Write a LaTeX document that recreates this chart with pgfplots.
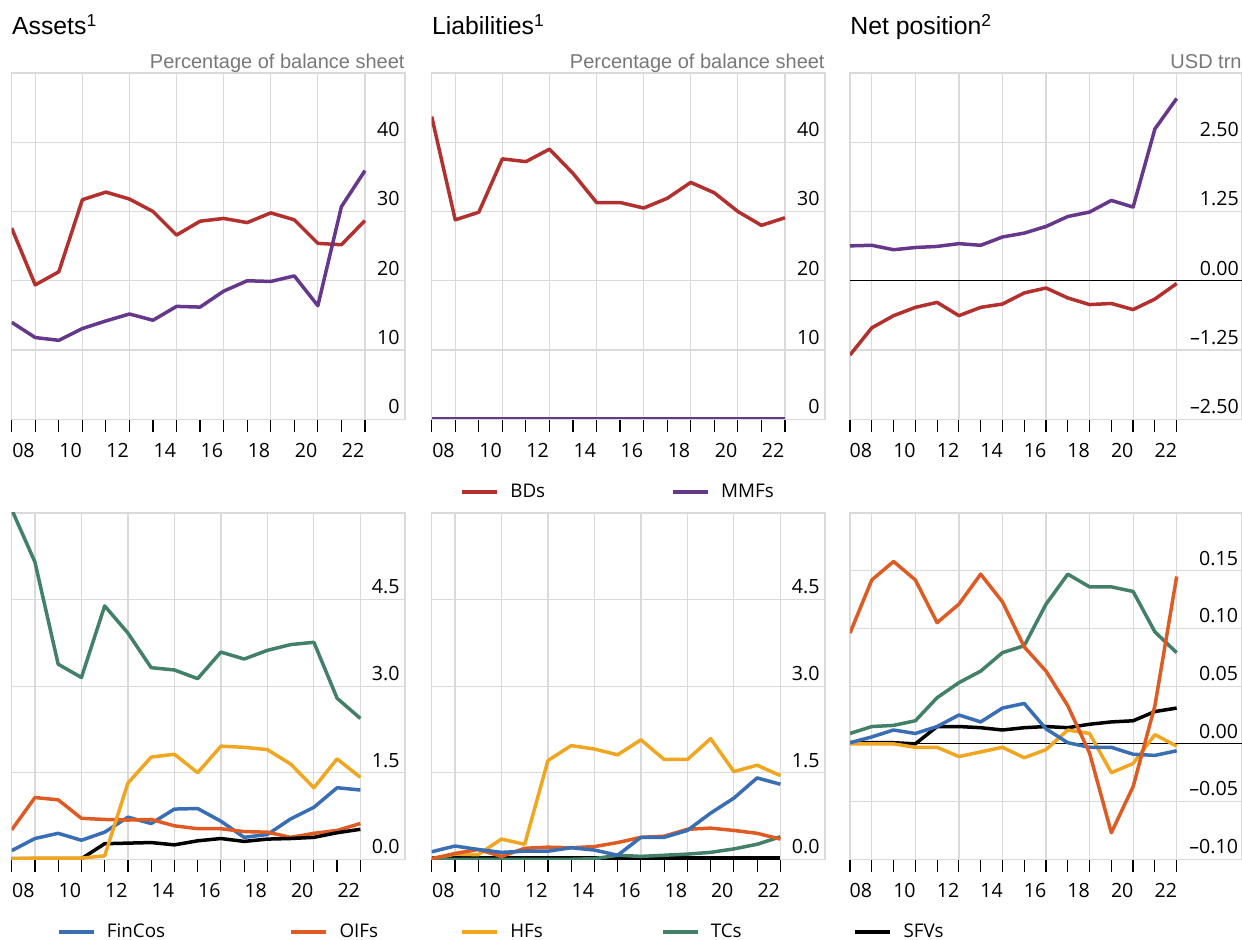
\documentclass[border=0pt]{standalone}
\usepackage{fontspec}
\setmainfont{Liberation Sans}
\newfontfamily\tickfont{Open Sans}
\usepackage{pgfplots}
\usepackage{pgfplotstable}
\pgfplotsset{compat=1.18}

\definecolor{bdred}{RGB}{178,48,46}
\definecolor{mmfpurple}{RGB}{102,56,140}
\definecolor{finblue}{RGB}{58,110,180}
\definecolor{oiforange}{RGB}{222,92,36}
\definecolor{hfyellow}{RGB}{240,166,32}
\definecolor{tcgreen}{RGB}{66,128,104}
\definecolor{gridgray}{RGB}{218,218,218}
\definecolor{unitgray}{RGB}{120,120,120}

% top row: share of balance sheet (%) and net position (USD trn)
\pgfplotstableread{
year  bds   mmfs
2008  27.6  14.0
2009  19.4  11.8
2010  21.3  11.4
2011  31.7  13.1
2012  32.8  14.2
2013  31.8  15.2
2014  30.0  14.3
2015  26.6  16.3
2016  28.6  16.2
2017  29.0  18.5
2018  28.4  20.0
2019  29.8  19.9
2020  28.8  20.7
2021  25.4  16.4
2022  25.2  30.7
2023  28.7  35.9
}\assetstop
\pgfplotstableread{
year  bds   mmfs
2008  43.7  0.15
2009  28.8  0.15
2010  29.9  0.15
2011  37.6  0.15
2012  37.2  0.15
2013  39.0  0.15
2014  35.5  0.15
2015  31.3  0.15
2016  31.3  0.15
2017  30.5  0.15
2018  31.9  0.15
2019  34.2  0.15
2020  32.7  0.15
2021  30.0  0.15
2022  28.0  0.15
2023  29.1  0.15
}\liabtop
\pgfplotstableread{
year  bds    mmfs
2008  -1.34  0.63
2009  -0.85  0.64
2010  -0.63  0.56
2011  -0.48  0.60
2012  -0.39  0.62
2013  -0.63  0.67
2014  -0.48  0.64
2015  -0.42  0.79
2016  -0.22  0.86
2017  -0.13  0.98
2018  -0.31  1.16
2019  -0.43  1.24
2020  -0.41  1.45
2021  -0.52  1.33
2022  -0.33  2.74
2023  -0.05  3.29
}\nettop

% bottom row: other non-bank financial institutions
\pgfplotstableread{
year  fincos  oifs  hfs   tcs   sfvs
2008  0.15    0.51  0.01  6.06  0.01
2009  0.36    1.07  0.02  5.15  0.01
2010  0.45    1.03  0.02  3.38  0.01
2011  0.33    0.71  0.02  3.15  0.01
2012  0.47    0.69  0.06  4.39  0.27
2013  0.73    0.68  1.32  3.92  0.28
2014  0.62    0.69  1.77  3.32  0.29
2015  0.87    0.58  1.82  3.28  0.25
2016  0.88    0.53  1.50  3.13  0.32
2017  0.66    0.53  1.96  3.59  0.36
2018  0.38    0.48  1.94  3.47  0.31
2019  0.43    0.47  1.90  3.62  0.35
2020  0.70    0.38  1.65  3.72  0.36
2021  0.90    0.45  1.24  3.76  0.38
2022  1.24    0.50  1.74  2.79  0.46
2023  1.20    0.62  1.42  2.44  0.52
}\assetsbot
\pgfplotstableread{
year  fincos  oifs  hfs   tcs   sfvs
2008  0.13    0.01  0.01  0.00  0.02
2009  0.23    0.10  0.09  0.00  0.02
2010  0.17    0.17  0.08  0.00  0.02
2011  0.12    0.05  0.35  0.00  0.02
2012  0.14    0.19  0.26  0.00  0.02
2013  0.14    0.21  1.71  0.00  0.02
2014  0.20    0.20  1.97  0.00  0.02
2015  0.16    0.22  1.91  0.01  0.02
2016  0.07    0.29  1.81  0.07  0.02
2017  0.38    0.38  2.07  0.05  0.02
2018  0.38    0.40  1.73  0.07  0.02
2019  0.50    0.52  1.73  0.09  0.02
2020  0.80    0.54  2.09  0.12  0.02
2021  1.06    0.50  1.52  0.18  0.02
2022  1.41    0.45  1.63  0.26  0.02
2023  1.30    0.35  1.45  0.39  0.02
}\liabbot
\pgfplotstableread{
year  fincos  oifs    hfs     tcs    sfvs
2008  0.001   0.096   0.000   0.009  0.001
2009  0.006   0.142   0.000   0.015  0.001
2010  0.012   0.158   0.000   0.016  0.001
2011  0.009   0.142  -0.003   0.020  0.000
2012  0.015   0.105  -0.003   0.040  0.015
2013  0.025   0.121  -0.011   0.053  0.015
2014  0.019   0.147  -0.007   0.063  0.014
2015  0.031   0.123  -0.003   0.079  0.012
2016  0.035   0.084  -0.012   0.085  0.014
2017  0.013   0.063  -0.005   0.121  0.015
2018  0.001   0.033   0.012   0.147  0.014
2019  -0.003  -0.008  0.009   0.136  0.017
2020  -0.003  -0.077  -0.025  0.136  0.019
2021  -0.009  -0.037  -0.017  0.132  0.020
2022  -0.010  0.033   0.008   0.097  0.028
2023  -0.006  0.145   -0.002  0.079  0.031
}\netbot

\pgfplotsset{
  legend image code/.code={\draw[#1, line width=1.6pt] (0pt,0pt) -- (17.5pt,0pt);},
  panel/.style={
    scale only axis, width=196.65pt, height=173.15pt,
    anchor=south west, xmin=2008, clip mode=individual,
    axis line style={draw=gridgray, line width=0.6pt},
    % a tick at every year, labels moved to mid-year, grid at odd years
    xtick={2008,2009,...,2023},
    xticklabels={08,,10,,12,,14,,16,,18,,20,,22,},
    minor xtick={2009,2011,2013,2015,2017,2019,2021,2023},
    xminorgrids=true, minor tick length=0pt,
    minor grid style={draw=gridgray, line width=0.6pt},
    ymajorgrids=true,
    major grid style={draw=gridgray, line width=0.6pt},
    major tick length=6.5pt, tick align=outside,
    xtick style={draw=black, line width=0.6pt},
    ytick style={draw=none},
    xtick pos=left, ytick pos=right, yticklabel pos=right,
    xticklabel style={font=\tickfont\fontsize{9.8}{10}\selectfont,
      anchor=north, inner sep=0pt, yshift=-5.2pt, xshift=5.89pt},
    yticklabel style={font=\tickfont\fontsize{9.8}{10}\selectfont,
      anchor=base east, inner sep=0pt, xshift=-9pt, yshift=2.85pt},
    title style={at={(0,1)}, anchor=base west, inner sep=0pt, yshift=13pt,
      font=\fontsize{12.4}{14}\selectfont},
    legend columns=2, legend cell align=left,
    series/.style={line width=1.75pt, line join=round, no markers},
  },
  toprow/.style={panel, ymin=0, ymax=50, ytick={0,10,20,30,40},
    yticklabels={0,10,20,30,40}, xmax=2024.7},
  botrow/.style={panel, ymin=0, ymax=6, ytick={0,1.5,3,4.5},
    yticklabels={0.0,1.5,3.0,4.5}, xmax=2024.92,
    xticklabel style={xshift=-0.08pt}},
  netrow/.style={panel, width=196pt, xmax=2026,
    xticklabel style={xshift=-0.44pt}},
  leg/.style 2 args={legend style={at={(#1,-0.21)}, anchor=west, draw=none,
    fill=none, inner sep=0pt,
    nodes={inner sep=0pt, text width=#2,
      font=\tickfont\fontsize{9.4}{10}\selectfont},
    /tikz/every odd column/.style={column sep=5.85pt},
    /tikz/every even column/.style={column sep=0pt}}},
}

\newcommand{\units}[1]{\node[anchor=base east, inner sep=0pt, text=unitgray,
  font=\fontsize{10}{12}\selectfont] at (rel axis cs:1,1) [yshift=2.4pt] {#1};}

\begin{document}
\begin{tikzpicture}
\path[use as bounding box] (0,0) rectangle (621pt,470pt);

% ---- top row ----
\begin{axis}[toprow, at={(5.85pt,260.35pt)}, title={Assets\textsuperscript{1}}]
\addplot[series, bdred] table[x=year, y=bds] {\assetstop};
\addplot[series, mmfpurple] table[x=year, y=mmfs] {\assetstop};
\units{Percentage of balance sheet}
\end{axis}

\begin{axis}[toprow, at={(215.85pt,260.35pt)}, title={Liabilities\textsuperscript{1}},
  leg={0.072}{80.5pt}]
\addplot[series, bdred] table[x=year, y=bds] {\liabtop};
\addlegendentry{BDs}
\addplot[series, mmfpurple, line width=0.8pt] table[x=year, y=mmfs] {\liabtop};
\addlegendentry{MMFs}
\units{Percentage of balance sheet}
\end{axis}

\begin{axis}[netrow, at={(425pt,260.35pt)},
  ymin=-2.5, ymax=3.75, ytick={-2.5,-1.25,0,1.25,2.5},
  yticklabels={–2.50,–1.25,0.00,1.25,2.50},
  yticklabel style={xshift=1.1pt},
  title={Net position\textsuperscript{2}}]
\addplot[black, line width=0.7pt, forget plot] coordinates {(2008,0) (2026,0)};
\addplot[series, bdred] table[x=year, y=bds] {\nettop};
\addplot[series, mmfpurple] table[x=year, y=mmfs] {\nettop};
\units{USD trn}
\end{axis}

% ---- bottom row ----
\begin{axis}[botrow, at={(5.85pt,40.35pt)}, leg={0.1144}{91.35pt}]
\addplot[series, finblue] table[x=year, y=fincos] {\assetsbot};
\addlegendentry{FinCos}
\addplot[series, oiforange] table[x=year, y=oifs] {\assetsbot};
\addlegendentry{OIFs}
\addplot[series, tcgreen, forget plot] table[x=year, y=tcs] {\assetsbot};
\addplot[series, black, forget plot] table[x=year, y=sfvs] {\assetsbot};
\addplot[series, hfyellow, forget plot] table[x=year, y=hfs] {\assetsbot};
\end{axis}

\begin{axis}[botrow, at={(215.85pt,40.35pt)}, leg={0.072}{75.3pt}]
\addplot[series, black, forget plot] table[x=year, y=sfvs] {\liabbot};
\addplot[series, hfyellow] table[x=year, y=hfs] {\liabbot};
\addlegendentry{HFs}
\addplot[series, tcgreen] table[x=year, y=tcs] {\liabbot};
\addlegendentry{TCs}
\addplot[series, oiforange, forget plot] table[x=year, y=oifs] {\liabbot};
\addplot[series, finblue, forget plot] table[x=year, y=fincos] {\liabbot};
\end{axis}

\begin{axis}[netrow, at={(425pt,40.35pt)},
  ymin=-0.1, ymax=0.2, ytick={-0.1,-0.05,0,0.05,0.1,0.15},
  yticklabels={–0.10,–0.05,0.00,0.05,0.10,0.15},
  yticklabel style={xshift=0.7pt}, leg={0.0085}{40pt}]
\addplot[black, line width=0.6pt, forget plot] coordinates {(2008,0) (2026,0)};
\addplot[series, black] table[x=year, y=sfvs] {\netbot};
\addlegendentry{SFVs}
\addplot[series, hfyellow, forget plot] table[x=year, y=hfs] {\netbot};
\addplot[series, finblue, forget plot] table[x=year, y=fincos] {\netbot};
\addplot[series, tcgreen, forget plot] table[x=year, y=tcs] {\netbot};
\addplot[series, oiforange, forget plot] table[x=year, y=oifs] {\netbot};
\end{axis}
\end{tikzpicture}
\end{document}
